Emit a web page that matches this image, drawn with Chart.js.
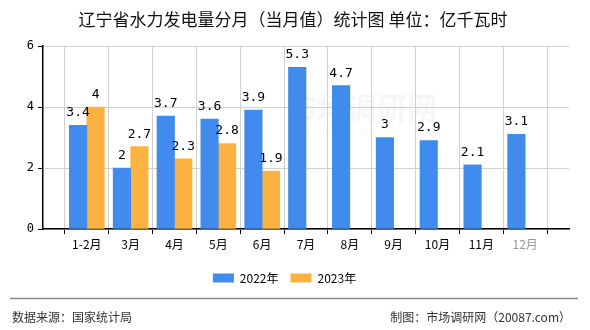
<!DOCTYPE html>
<html>
<head>
<meta charset="utf-8">
<script src="https://cdn.jsdelivr.net/npm/chart.js@4/dist/chart.umd.min.js"></script>
<style>
  body { margin: 0; background: #fff; }
</style>
</head>
<body>
<canvas id="c" width="590" height="330"></canvas>
<script>
// 数据
var months = ["1-2月", "3月", "4月", "5月", "6月", "7月", "8月", "9月", "10月", "11月", "12月"];
var v2022 = [3.4, 2, 3.7, 3.6, 3.9, 5.3, 4.7, 3, 2.9, 2.1, 3.1];
var v2023 = [4, 2.7, 2.3, 2.8, 1.9];
var yTicks = [0, 2, 4, 6];

// x轴两端各留一个空位，柱子居中于刻度
function pad(arr){
    var out = [null];
    for (var i = 0; i < months.length; i++) out.push(i < arr.length ? arr[i] : null);
    out.push(null);
    return out;
}
var labels = [""].concat(months, [""]);

var cnFont = "'Noto Sans CJK SC', 'DejaVu Sans', sans-serif";
var monoFont = "'DejaVu Sans Mono', 'Liberation Mono', monospace";

// 柱顶数值 + 标题/页脚
var extras = {
    id: "extras",
    beforeDraw: function(chart){
        var ctx = chart.ctx;
        ctx.save();
        // 水印
        ctx.fillStyle = "rgba(120,130,160,0.07)";
        ctx.font = "bold 30px " + cnFont;
        ctx.textAlign = "left";
        ctx.textBaseline = "middle";
        ctx.fillText("市场调研网", 287, 108);
        ctx.font = "10px " + monoFont;
        ctx.fillText("www.20087.com", 292, 132);
        ctx.restore();
    },
    afterDatasetsDraw: function(chart){
        var ctx = chart.ctx;
        ctx.save();
        ctx.font = "13px " + monoFont;
        ctx.fillStyle = "#000";
        ctx.textAlign = "center";
        ctx.textBaseline = "bottom";
        chart.data.datasets.forEach(function(ds, i){
            var meta = chart.getDatasetMeta(i);
            meta.data.forEach(function(bar, j){
                if (ds.data[j] == null) return;
                ctx.fillText(String(ds.data[j]), bar.x, bar.y - 6);
            });
        });
        ctx.restore();
    },
    afterDraw: function(chart){
        var ctx = chart.ctx;
        ctx.save();
        ctx.fillStyle = "#111";
        ctx.font = "17px " + cnFont;
        ctx.textAlign = "center";
        ctx.textBaseline = "middle";
        ctx.fillText("辽宁省水力发电量分月（当月值）统计图 单位：亿千瓦时", 293, 20);
        // 页脚
        ctx.strokeStyle = "#888";
        ctx.lineWidth = 1.5;
        ctx.beginPath();
        ctx.moveTo(10, 298.5);
        ctx.lineTo(578, 298.5);
        ctx.stroke();
        ctx.fillStyle = "#333";
        ctx.font = "12px " + cnFont;
        ctx.textAlign = "left";
        ctx.fillText("数据来源：国家统计局", 12, 317);
        ctx.textAlign = "right";
        ctx.fillText("制图：市场调研网（20087.com）", 571, 317);
        ctx.restore();
    }
};

new Chart(document.getElementById("c"), {
    type: "bar",
    data: {
        labels: labels,
        datasets: [
            { label: "2022年", data: pad(v2022), backgroundColor: "#418bec" },
            { label: "2023年", data: pad(v2023), backgroundColor: "#fbb240" }
        ]
    },
    options: {
        responsive: false,
        animation: false,
        barThickness: 17.5,
        layout: { padding: { left: 0, right: 21, top: 46, bottom: 36 } },
        plugins: {
            title: { display: false },
            tooltip: { enabled: false },
            legend: {
                position: "bottom",
                labels: {
                    boxWidth: 21, boxHeight: 9, padding: 12,
                    color: "#000",
                    font: { size: 12, family: cnFont }
                }
            }
        },
        scales: {
            x: {
                offset: false,
                grid: { color: "#d0d0d0", tickColor: "#000", tickLength: 5, drawOnChartArea: true },
                border: { color: "#000", width: 1.5 },
                ticks: {
                    autoSkip: false, maxRotation: 0, padding: 3,
                    font: { size: 12, family: cnFont },
                    color: function(c){ return c.tick && c.tick.label === "12月" ? "#999" : "#000"; }
                },
                afterFit: function(s){ s.height = 31; }
            },
            y: {
                min: 0, max: 6,
                afterBuildTicks: function(s){ s.ticks = yTicks.map(function(v){ return { value: v }; }); },
                grid: { color: "#d0d0d0", tickColor: "#000", tickLength: 5 },
                border: { color: "#000", width: 1.5 },
                ticks: { padding: 4, color: "#000", font: { size: 12, family: monoFont } },
                afterFit: function(s){ s.width = 43; }
            }
        }
    },
    plugins: [extras]
});
</script>
</body>
</html>
